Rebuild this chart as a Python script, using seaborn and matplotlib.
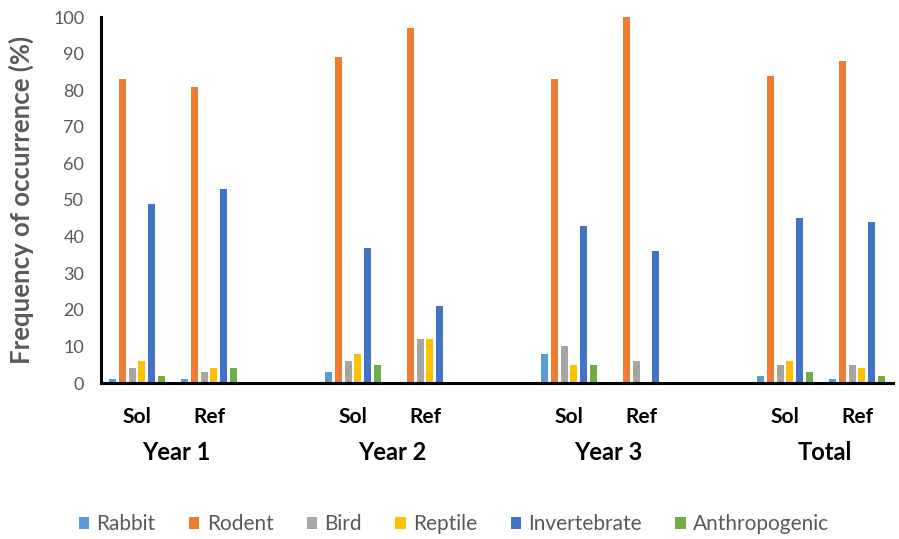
import matplotlib
matplotlib.use("Agg")
import matplotlib.pyplot as plt
import matplotlib.transforms as mtransforms
import seaborn as sns
import pandas as pd

# Diet composition: frequency of occurrence (%) per prey category
groups = ["Year 1", "Year 2", "Year 3", "Total"]
sites = ["Sol", "Ref"]
prey = ["Rabbit", "Rodent", "Bird", "Reptile", "Invertebrate", "Anthropogenic"]

# one value per (group, site) cluster: Y1 Sol, Y1 Ref, Y2 Sol, Y2 Ref, ...
rabbit = [1, 1, 3, 0, 8, 0, 2, 1]
rodent = [83, 81, 89, 97, 83, 100, 84, 88]
bird = [4, 3, 6, 12, 10, 6, 5, 5]
reptile = [6, 4, 8, 12, 5, 0, 6, 4]
invertebrate = [49, 53, 37, 21, 43, 36, 45, 44]
anthropogenic = [2, 4, 5, 0, 5, 0, 3, 2]

colors = ["#5B9BD5", "#ED7D31", "#A5A5A5", "#FFC000", "#4472C4", "#70AD47"]

series = [rabbit, rodent, bird, reptile, invertebrate, anthropogenic]

# category slots: Sol, Ref, spacer for each group (no spacer after the last)
slots = []
slot_labels = []
for gi, g in enumerate(groups):
    for s in sites:
        slots.append(f"{g}|{s}")
        slot_labels.append(s)
    if gi < len(groups) - 1:
        slots.append(f"gap{gi}")
        slot_labels.append("")

clusters = [f"{g}|{s}" for g in groups for s in sites]
rows = []
for p, vals in zip(prey, series):
    for c, v in zip(clusters, vals):
        rows.append({"slot": c, "prey": p, "value": v})
df = pd.DataFrame(rows)

sns.set_style("white")
plt.rcParams["font.family"] = ["Lato", "DejaVu Sans"]

fig = plt.figure(figsize=(8.99, 5.39), dpi=100)
ax = fig.add_axes([101 / 899, 1 - 383 / 539, (893 - 101) / 899, (383 - 17) / 539])

sns.barplot(data=df, x="slot", y="value", hue="prey", order=slots,
            hue_order=prey, palette=colors, saturation=1, width=0.82, gap=0.28,
            edgecolor="none", ax=ax, legend=True)

ax.set_ylim(0, 100)
ax.set_xlim(-0.5, len(slots) - 0.5)
ax.set_yticks(range(0, 101, 10))
ax.tick_params(axis="y", length=0, pad=12, labelsize=13, labelcolor="#595959")
ax.tick_params(axis="x", length=0, pad=17)
ax.set_xticks(range(len(slots)))
ax.set_xticklabels(slot_labels, fontsize=15, fontweight="bold", color="black")
ax.set_xlabel("")
ax.set_ylabel("Frequency of occurrence (%)", fontsize=18.5, fontweight="bold",
              color="#595959", labelpad=14)

for side in ["top", "right"]:
    ax.spines[side].set_visible(False)
for side in ["left", "bottom"]:
    ax.spines[side].set_color("black")
    ax.spines[side].set_linewidth(2.2)

# group labels beneath the Sol/Ref pairs
trans = mtransforms.blended_transform_factory(ax.transData, ax.transAxes)
for gi, g in enumerate(groups):
    xc = gi * 3 + 0.55
    ax.text(xc, -70 / 366, g, transform=trans, ha="center", va="center",
            fontsize=17, fontweight="bold", color="black")

handles, labels = ax.get_legend_handles_labels()
ax.get_legend().remove()
fig.legend(handles, labels, loc="center", bbox_to_anchor=(0.505, 1 - 524 / 539),
           ncol=6, frameon=False, fontsize=15, handlelength=0.5,
           handleheight=0.5, handletextpad=0.35, columnspacing=1.6,
           labelcolor="#595959")

fig.savefig("out.png", dpi=100)
